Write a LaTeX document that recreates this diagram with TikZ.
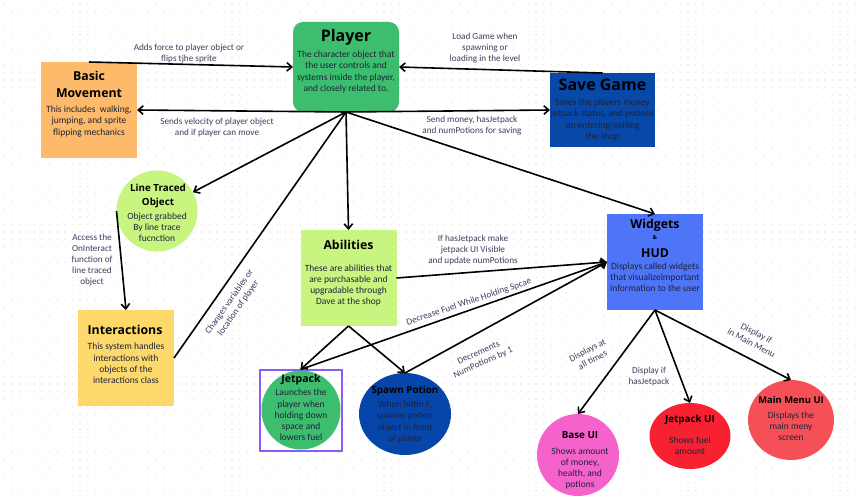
\documentclass[tikz,border=0pt]{standalone}
\usepackage{fontspec}
\setmainfont{Carlito}
\newfontfamily\ttlfont{Open Sans}
\usetikzlibrary{arrows.meta,shapes.geometric}
\definecolor{pgreen}{RGB}{61,190,111}
\definecolor{orng}{RGB}{252,186,106}
\definecolor{sgblue}{RGB}{8,72,168}
\definecolor{lgreen}{RGB}{200,245,128}
\definecolor{yel}{RGB}{253,216,106}
\definecolor{wblue}{RGB}{78,116,248}
\definecolor{spblue}{RGB}{6,70,170}
\definecolor{pink}{RGB}{246,98,204}
\definecolor{jred}{RGB}{247,33,50}
\definecolor{mred}{RGB}{245,80,88}
\definecolor{purp}{RGB}{139,92,246}
\definecolor{bodycol}{RGB}{30,34,56}
\definecolor{lblcol}{RGB}{62,62,96}
\definecolor{dotcol}{RGB}{215,215,215}
\tikzset{
  shp/.style={draw=none, inner sep=0pt, outer sep=0pt},
  ttl/.style={font=\ttlfont\bfseries\fontsize{12.3}{17}\selectfont, text=black, align=center, inner sep=0pt},
  cttl/.style={font=\ttlfont\bfseries\fontsize{9.8}{14}\selectfont, text=black, align=center, inner sep=0pt},
  bodytxt/.style={font=\fontsize{9.5}{11.2}\selectfont, text=bodycol, align=center, inner sep=0pt},
  lbl/.style={font=\fontsize{9.2}{11}\selectfont, text=lblcol, align=center, inner sep=0pt},
  arr/.style={line width=1.6pt, -{Straight Barb[length=5pt,width=8.5pt]}},
  plainln/.style={line width=1.6pt},
  dotrow/.style={draw=dotcol, line width=1.1pt, line cap=round, dash pattern=on 0pt off 7.6pt},
}
\begin{document}
\begin{tikzpicture}[x=1pt,y=-1pt]
\useasboundingbox (0,0) rectangle (861,497);
\fill[white] (0,0) rectangle (861,497);
\foreach \j in {0,...,64} \draw[dotrow] (4,\j*7.6+4) -- (861,\j*7.6+4);

% shapes
\node[shp, fill=pgreen, rounded corners=10pt, minimum width=106pt, minimum height=90pt] (player) at (346,67) {};
\node[shp, fill=orng, minimum width=96pt, minimum height=96pt] (bm) at (89,110) {};
\node[shp, fill=sgblue, minimum width=105pt, minimum height=74pt] (sg) at (602.5,110) {};
\node[shp, fill=lgreen, circle, minimum size=81pt] (lto) at (157,211) {};
\node[shp, fill=yel, minimum width=96pt, minimum height=96pt] (int) at (126,358) {};
\node[shp, fill=lgreen, minimum width=96pt, minimum height=96pt] (abl) at (348.5,278) {};
\node[shp, fill=wblue, minimum width=96pt, minimum height=96pt] (wid) at (655,262) {};
\node[shp, draw=purp, line width=2pt, minimum width=82pt, minimum height=81pt] (jpf) at (300.5,410) {};
\node[shp, fill=pgreen, circle, minimum size=79pt] (jp) at (301,410) {};
\node[shp, fill=spblue, ellipse, minimum width=92pt, minimum height=82pt] (sp) at (405,414) {};
\node[shp, fill=pink, circle, minimum size=82pt] (bui) at (578,455) {};
\node[shp, fill=jred, ellipse, minimum width=81pt, minimum height=66pt] (jui) at (690,436) {};
\node[shp, fill=mred, ellipse, minimum width=86pt, minimum height=80pt] (mui) at (791,420) {};

% texts in shapes
\node[ttl, font=\ttlfont\bfseries\fontsize{16}{18}\selectfont] (tplayer) at (346,37) {Player};
\node[bodytxt] (bplayer) at (346,72) {The character object that\\the user controls and\\systems inside the player,\\and closely related to.};
\node[ttl] (tbm) at (89,84.5) {Basic\\Movement};
\node[bodytxt] (bbm) at (89,121.5) {This includes\ \ walking,\\jumping, and sprite\\flipping mechanics};
\node[ttl, font=\ttlfont\bfseries\fontsize{16}{18}\selectfont] (tsg) at (602.5,85) {Save Game};
\node[bodytxt] (bsg) at (602.5,120) {Saves the players money\\jetpack status, and potions\\on entering/exiting\\the shop};
\node[cttl] (tlto) at (158,196) {Line Traced\\Object};
\node[bodytxt] (blto) at (157,227) {Object grabbed\\By line trace\\fucnction};
\node[ttl] (tint) at (125,330) {Interactions};
\node[bodytxt] (bint) at (126,363.5) {This system handles\\interactions with\\objects of the\\interactions class};
\node[ttl] (tabl) at (348.5,245) {Abilities};
\node[bodytxt] (babl) at (348.5,285.5) {These are abilities that\\are purchasable and\\upgradable through\\Dave at the shop};
\node[ttl] (twid1) at (655,225) {Widgets};
\node[ttl, font=\ttlfont\bfseries\fontsize{5.5}{6}\selectfont] (twid2) at (655,238) {\&};
\node[ttl] (twid3) at (655,253) {HUD};
\node[bodytxt] (bwid) at (655,277) {Displays called widgets\\that visualizeimportant\\information to the user};
\node[cttl, font=\ttlfont\bfseries\fontsize{10.5}{14}\selectfont] (tjp) at (301,380) {Jetpack};
\node[bodytxt] (bjp) at (301,415) {Launches the\\player when\\holding down\\space and\\lowers fuel};
\node[cttl] (tsp) at (405,391) {Spawn Potion};
\node[bodytxt] (bsp) at (405,422) {When hittin F,\\spawns potion\\object in front\\of player};
\node[cttl] (tbui) at (580,435) {Base UI};
\node[bodytxt] (bbui) at (580,468.5) {Shows amount\\of money,\\health, and\\potions};
\node[cttl] (tjui) at (690,420) {Jetpack UI};
\node[bodytxt] (bjui) at (690,445.5) {Shows fuel\\amount};
\node[cttl, font=\ttlfont\bfseries\fontsize{9.4}{14}\selectfont] (tmui) at (791,400) {Main Menu UI};
\node[bodytxt] (bmui) at (791,426) {Displays the\\main meny\\screen};

% connectors
\draw[arr] (bm.north) -- (player.west);
\draw[arr] (sg.north) -- (player.east);
\draw[arr] (player.south) -- (bm.east);
\draw[arr] (player.south) -- (sg.west);
\draw[arr] (player.south) -- (lto);
\draw[arr] (player.south) -- (abl.north);
\draw[arr] (player.south) -- (wid.north);
\draw[plainln] (int.east) -- (player.south);
\draw[arr] (lto.west) -- (int.north);
\draw[arr] (abl.east) -- (wid.west);
\draw[arr] (abl.south) -- (jpf.north);
\draw[arr] (abl.south) -- (sp.north);
\draw[arr] (jpf.north) -- (wid.west);
\draw[arr] (sp.north) -- (wid.west);
\draw[arr] (wid.south) -- (bui.north);
\draw[arr] (wid.south) -- (jui.north);
\draw[arr] (wid.south) -- (mui.north);

% connector labels
\node[lbl] (l1) at (189,53.5) {Adds force to player object or\\flips tjhe sprite};
\node[lbl] (l2) at (217,128) {Sends velocity of player object\\and if player can move};
\node[lbl] (l3) at (472,126) {Send money, hasJetpack\\and numPotions for saving};
\node[lbl] (l4) at (485,48) {Load Game when\\spawning or\\loading in the level};
\node[lbl] (l5) at (92,260) {Access the\\OnInteract\\function of\\line traced\\object};
\node[lbl, rotate=55] (l6) at (234,305) {Changes variables or\\location of player};
\node[lbl] (l7) at (473,250.5) {If hasJetpack make\\jetpack UI Visible\\and update numPotions};
\node[lbl, rotate=18.6] (l8) at (469,302) {Decrease Fuel While Holding Spcae};
\node[lbl, rotate=24] (l9) at (481,358) {Decrements\\NumPotions by 1};
\node[lbl, rotate=28] (l10) at (590,355) {Displays at\\all times};
\node[lbl] (l11) at (649,376.5) {Display if\\hasJetpack};
\node[lbl, rotate=-28] (l12) at (754,338) {Display if\\in Main Menu};
\end{tikzpicture}
\end{document}
